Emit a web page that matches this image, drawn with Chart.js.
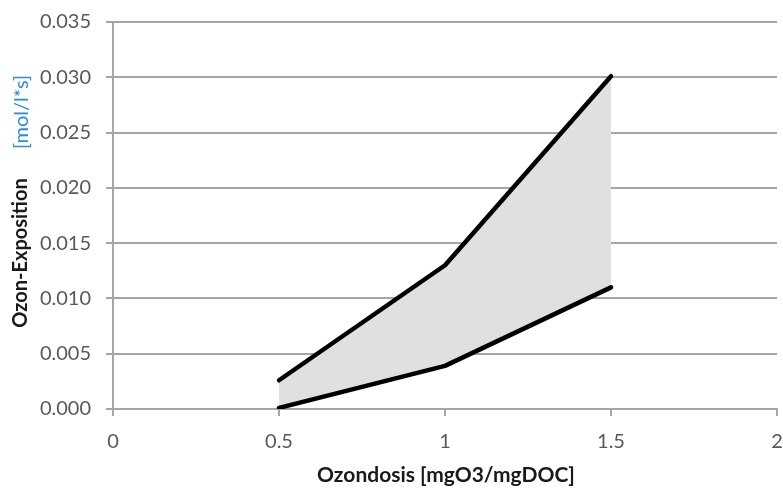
<!DOCTYPE html>
<html>
<head>
<meta charset="utf-8">
<script src="https://cdn.jsdelivr.net/npm/chart.js@4/dist/chart.umd.min.js"></script>
<style>
html,body{margin:0;padding:0;background:#fff;}
#wrap{width:783px;height:488px;position:relative;}
</style>
</head>
<body>
<div id="wrap"><canvas id="c" width="783" height="488"></canvas></div>
<script>
const xValues = [0.5, 1, 1.5];
const upperSeries = [0.0026, 0.013, 0.0301];
const lowerSeries = [0.0001, 0.0039, 0.011];
const xTicks = [0, 0.5, 1, 1.5, 2];
const yTicks = [0, 0.005, 0.01, 0.015, 0.02, 0.025, 0.03, 0.035];
const xTitle = 'Ozondosis [mgO3/mgDOC]';
const yTitleMain = 'Ozon-Exposition';
const yTitleUnit = '[mol/l*s]';

const FONT = 'Lato, "Open Sans", sans-serif';
const gridCol = '#a6a6a6';
const tickCol = '#595959';

const titlesPlugin = {
  id: 'titles',
  afterDraw(chart) {
    const ctx = chart.ctx;
    ctx.save();
    ctx.textBaseline = 'middle';
    ctx.textAlign = 'center';
    ctx.font = 'bold 21px ' + FONT;
    ctx.fillStyle = '#1a1a1a';
    ctx.fillText(xTitle, 446, 475);
    ctx.translate(21, 0);
    ctx.rotate(-Math.PI / 2);
    ctx.font = 'bold 20px ' + FONT;
    ctx.fillText(yTitleMain, -253, 0);
    ctx.font = '20px ' + FONT;
    ctx.fillStyle = '#2e8bd6';
    ctx.fillText(yTitleUnit, -112, 1);
    ctx.restore();
  }
};

new Chart(document.getElementById('c'), {
  type: 'line',
  data: {
    datasets: [
      {
        label: 'upper',
        data: xValues.map((x, i) => ({x: x, y: upperSeries[i]})),
        borderColor: '#000',
        borderWidth: 4.5,
        pointRadius: 0,
        fill: '+1',
        backgroundColor: 'rgb(224,224,224)',
        tension: 0,
        borderCapStyle: 'round',
        borderJoinStyle: 'round'
      },
      {
        label: 'lower',
        data: xValues.map((x, i) => ({x: x, y: lowerSeries[i]})),
        borderColor: '#000',
        borderWidth: 4.5,
        pointRadius: 0,
        fill: false,
        tension: 0,
        borderCapStyle: 'round',
        borderJoinStyle: 'round'
      }
    ]
  },
  options: {
    responsive: false,
    animation: false,
    layout: {padding: {left: 0, right: 6, top: 22, bottom: 0}},
    plugins: {legend: {display: false}, tooltip: {enabled: false}, filler: {drawTime: 'beforeDatasetsDraw'}},
    scales: {
      x: {
        type: 'linear',
        min: 0, max: 2,
        afterBuildTicks(scale) { scale.ticks = xTicks.map(v => ({value: v})); },
        afterFit(scale) { scale.height = 79; scale.paddingLeft = 0; scale.paddingRight = 0; },
        grid: {display: true, drawOnChartArea: false, drawTicks: true, tickLength: 7, color: gridCol, lineWidth: 2},
        border: {display: true, color: gridCol, width: 2},
        ticks: {color: tickCol, font: {family: FONT, size: 20}, padding: 14, maxRotation: 0,
          callback: v => String(v)}
      },
      y: {
        type: 'linear',
        min: 0, max: 0.035,
        afterBuildTicks(scale) { scale.ticks = yTicks.map(v => ({value: v})); },
        afterFit(scale) { scale.width = 113; scale.paddingTop = 0; scale.paddingBottom = 0; },
        grid: {display: true, drawTicks: true, tickLength: 7, color: gridCol, lineWidth: 2},
        border: {display: true, color: gridCol, width: 2},
        ticks: {color: tickCol, font: {family: FONT, size: 20}, padding: 15,
          callback: v => Number(v).toFixed(3)}
      }
    }
  },
  plugins: [titlesPlugin]
});
</script>
</body>
</html>
